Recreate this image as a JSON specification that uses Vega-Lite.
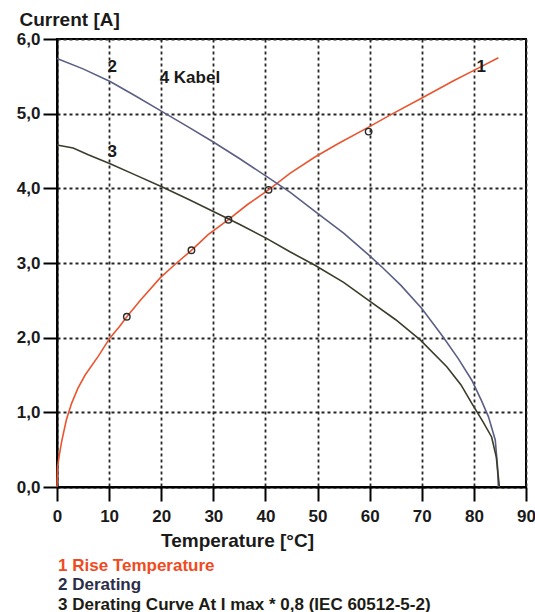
{
  "$schema": "https://vega.github.io/schema/vega-lite/v6.json",
  "autosize": "none",
  "width": 469,
  "height": 448,
  "padding": {"left": 57, "top": 39, "right": 9, "bottom": 125},
  "background": "#ffffff",
  "config": {
    "font": "Liberation Sans",
    "view": {"stroke": "#000000", "strokeWidth": 2},
    "axis": {
      "labelFont": "Liberation Sans",
      "labelFontWeight": "bold",
      "labelFontSize": 17,
      "labelColor": "#1a1a1a",
      "titleFont": "Liberation Sans",
      "titleFontWeight": "bold",
      "titleFontSize": 19,
      "titleColor": "#1a1a1a",
      "domainColor": "#000000",
      "domainWidth": 2,
      "tickColor": "#000000",
      "tickWidth": 2,
      "tickSize": 14,
      "gridColor": "#262626",
      "gridDash": [3, 3],
      "gridWidth": 1.8,
      "gridOpacity": 1
    }
  },
  "datasets": {
    "curves": [
      {"series": "1 Rise Temperature", "temp": 0, "current": 0},
      {"series": "1 Rise Temperature", "temp": 0.1, "current": 0.27},
      {"series": "1 Rise Temperature", "temp": 0.5, "current": 0.45},
      {"series": "1 Rise Temperature", "temp": 0.9, "current": 0.61},
      {"series": "1 Rise Temperature", "temp": 1.8, "current": 0.9},
      {"series": "1 Rise Temperature", "temp": 2.8, "current": 1.12},
      {"series": "1 Rise Temperature", "temp": 4, "current": 1.32},
      {"series": "1 Rise Temperature", "temp": 5.4, "current": 1.5},
      {"series": "1 Rise Temperature", "temp": 7.9, "current": 1.75},
      {"series": "1 Rise Temperature", "temp": 10.2, "current": 2.0},
      {"series": "1 Rise Temperature", "temp": 12, "current": 2.15},
      {"series": "1 Rise Temperature", "temp": 13.4, "current": 2.28},
      {"series": "1 Rise Temperature", "temp": 16, "current": 2.5},
      {"series": "1 Rise Temperature", "temp": 19.8, "current": 2.8},
      {"series": "1 Rise Temperature", "temp": 22.3, "current": 2.96},
      {"series": "1 Rise Temperature", "temp": 25.8, "current": 3.17},
      {"series": "1 Rise Temperature", "temp": 29, "current": 3.38},
      {"series": "1 Rise Temperature", "temp": 32.9, "current": 3.58},
      {"series": "1 Rise Temperature", "temp": 36.5, "current": 3.78},
      {"series": "1 Rise Temperature", "temp": 40.6, "current": 3.98},
      {"series": "1 Rise Temperature", "temp": 44.7, "current": 4.2},
      {"series": "1 Rise Temperature", "temp": 49.5, "current": 4.42},
      {"series": "1 Rise Temperature", "temp": 54, "current": 4.6},
      {"series": "1 Rise Temperature", "temp": 59.8, "current": 4.82},
      {"series": "1 Rise Temperature", "temp": 63.9, "current": 4.98},
      {"series": "1 Rise Temperature", "temp": 70.3, "current": 5.22},
      {"series": "1 Rise Temperature", "temp": 76.1, "current": 5.44},
      {"series": "1 Rise Temperature", "temp": 80, "current": 5.58},
      {"series": "1 Rise Temperature", "temp": 84.7, "current": 5.75},
      {"series": "2 Derating", "temp": 0, "current": 5.74},
      {"series": "2 Derating", "temp": 5, "current": 5.6},
      {"series": "2 Derating", "temp": 10.2, "current": 5.43},
      {"series": "2 Derating", "temp": 15, "current": 5.24},
      {"series": "2 Derating", "temp": 20.1, "current": 5.03},
      {"series": "2 Derating", "temp": 25, "current": 4.83},
      {"series": "2 Derating", "temp": 30, "current": 4.62},
      {"series": "2 Derating", "temp": 35, "current": 4.4},
      {"series": "2 Derating", "temp": 40.2, "current": 4.16},
      {"series": "2 Derating", "temp": 44.7, "current": 3.95},
      {"series": "2 Derating", "temp": 49.5, "current": 3.69},
      {"series": "2 Derating", "temp": 55, "current": 3.4},
      {"series": "2 Derating", "temp": 59.8, "current": 3.11},
      {"series": "2 Derating", "temp": 62.6, "current": 2.93},
      {"series": "2 Derating", "temp": 66, "current": 2.7},
      {"series": "2 Derating", "temp": 70, "current": 2.39},
      {"series": "2 Derating", "temp": 74.1, "current": 2.01},
      {"series": "2 Derating", "temp": 77, "current": 1.72},
      {"series": "2 Derating", "temp": 79.6, "current": 1.43},
      {"series": "2 Derating", "temp": 81.5, "current": 1.15},
      {"series": "2 Derating", "temp": 82.8, "current": 0.94},
      {"series": "2 Derating", "temp": 84.1, "current": 0.63},
      {"series": "2 Derating", "temp": 84.5, "current": 0.3},
      {"series": "2 Derating", "temp": 84.7, "current": 0},
      {"series": "3 Derating Curve At I max * 0,8 (IEC 60512-5-2)", "temp": 0, "current": 4.58},
      {"series": "3 Derating Curve At I max * 0,8 (IEC 60512-5-2)", "temp": 3.1, "current": 4.54},
      {"series": "3 Derating Curve At I max * 0,8 (IEC 60512-5-2)", "temp": 6, "current": 4.45},
      {"series": "3 Derating Curve At I max * 0,8 (IEC 60512-5-2)", "temp": 10.2, "current": 4.33},
      {"series": "3 Derating Curve At I max * 0,8 (IEC 60512-5-2)", "temp": 15, "current": 4.18},
      {"series": "3 Derating Curve At I max * 0,8 (IEC 60512-5-2)", "temp": 20.1, "current": 4.02},
      {"series": "3 Derating Curve At I max * 0,8 (IEC 60512-5-2)", "temp": 25, "current": 3.86},
      {"series": "3 Derating Curve At I max * 0,8 (IEC 60512-5-2)", "temp": 30, "current": 3.69},
      {"series": "3 Derating Curve At I max * 0,8 (IEC 60512-5-2)", "temp": 35, "current": 3.52},
      {"series": "3 Derating Curve At I max * 0,8 (IEC 60512-5-2)", "temp": 40.2, "current": 3.33},
      {"series": "3 Derating Curve At I max * 0,8 (IEC 60512-5-2)", "temp": 44.7, "current": 3.15},
      {"series": "3 Derating Curve At I max * 0,8 (IEC 60512-5-2)", "temp": 49.5, "current": 2.97},
      {"series": "3 Derating Curve At I max * 0,8 (IEC 60512-5-2)", "temp": 55, "current": 2.74},
      {"series": "3 Derating Curve At I max * 0,8 (IEC 60512-5-2)", "temp": 59.8, "current": 2.5},
      {"series": "3 Derating Curve At I max * 0,8 (IEC 60512-5-2)", "temp": 65, "current": 2.24},
      {"series": "3 Derating Curve At I max * 0,8 (IEC 60512-5-2)", "temp": 69.7, "current": 1.97},
      {"series": "3 Derating Curve At I max * 0,8 (IEC 60512-5-2)", "temp": 74.8, "current": 1.61},
      {"series": "3 Derating Curve At I max * 0,8 (IEC 60512-5-2)", "temp": 77.5, "current": 1.37},
      {"series": "3 Derating Curve At I max * 0,8 (IEC 60512-5-2)", "temp": 79.6, "current": 1.12},
      {"series": "3 Derating Curve At I max * 0,8 (IEC 60512-5-2)", "temp": 81.7, "current": 0.88},
      {"series": "3 Derating Curve At I max * 0,8 (IEC 60512-5-2)", "temp": 83.4, "current": 0.67},
      {"series": "3 Derating Curve At I max * 0,8 (IEC 60512-5-2)", "temp": 84.3, "current": 0.4},
      {"series": "3 Derating Curve At I max * 0,8 (IEC 60512-5-2)", "temp": 84.9, "current": 0}
    ],
    "measured": [
      {"temp": 13.4, "current": 2.28},
      {"temp": 25.8, "current": 3.17},
      {"temp": 32.9, "current": 3.58},
      {"temp": 40.6, "current": 3.98},
      {"temp": 59.8, "current": 4.76}
    ],
    "curveNumbers": [
      {"label": "2", "temp": 10.6, "current": 5.62},
      {"label": "3", "temp": 10.6, "current": 4.48},
      {"label": "1", "temp": 81.4, "current": 5.62}
    ],
    "notes": [
      {"label": "4  Kabel", "temp": 19.7, "current": 5.48}
    ]
  },
  "layer": [
    {
      "data": {"name": "curves"},
      "mark": {"type": "line", "strokeWidth": 1.6},
      "encoding": {
        "x": {
          "field": "temp",
          "type": "quantitative",
          "scale": {"domain": [0, 90], "nice": false, "zero": false},
          "axis": {
            "values": [0, 10, 20, 30, 40, 50, 60, 70, 80, 90],
            "title": "Temperature [°C]",
            "titleX": 180,
            "titleY": 59,
            "titleAlign": "center",
            "titleBaseline": "alphabetic",
            "labelPadding": 7,
            "labelFlush": false
          }
        },
        "y": {
          "field": "current",
          "type": "quantitative",
          "scale": {"domain": [0, 6], "nice": false},
          "axis": {
            "values": [0, 1, 2, 3, 4, 5, 6],
            "labelExpr": "replace(format(datum.value, '.1f'), '.', ',')",
            "title": "Current [A]",
            "titleAngle": 0,
            "titleAlign": "left",
            "titleBaseline": "alphabetic",
            "titleX": -38,
            "titleY": -14,
            "labelPadding": 3,
            "labelFlush": false
          }
        },
        "color": {
          "field": "series",
          "type": "nominal",
          "scale": {
            "domain": ["1 Rise Temperature", "2 Derating", "3 Derating Curve At I max * 0,8 (IEC 60512-5-2)"],
            "range": ["#ea5530", "#5a6084", "#3c3c2a"]
          },
          "legend": {
            "orient": "none",
            "legendX": -16,
            "legendY": 518,
            "title": null,
            "padding": 0,
            "symbolSize": 0,
            "symbolStrokeWidth": 0,
            "symbolOpacity": 0,
            "labelOffset": 0,
            "labelLimit": 0,
            "labelFont": "Liberation Sans",
            "labelFontWeight": "bold",
            "labelFontSize": 17,
            "rowPadding": 1.5,
            "direction": "vertical",
            "encode": {
              "labels": {
                "update": {
                  "fill": {"signal": "datum.value == '1 Rise Temperature' ? '#f04a22' : datum.value == '2 Derating' ? '#2c2e48' : '#1c1c14'"}
                }
              }
            }
          }
        }
      }
    },
    {
      "data": {"name": "measured"},
      "mark": {"type": "point", "shape": "circle", "filled": false, "size": 42, "strokeWidth": 1.4, "color": "#2a2a2a", "opacity": 1},
      "encoding": {
        "x": {"field": "temp", "type": "quantitative"},
        "y": {"field": "current", "type": "quantitative"}
      }
    },
    {
      "data": {"name": "curveNumbers"},
      "mark": {"type": "text", "font": "Liberation Sans", "fontWeight": "bold", "fontSize": 17, "color": "#1a1a1a", "baseline": "middle", "align": "center"},
      "encoding": {
        "x": {"field": "temp", "type": "quantitative"},
        "y": {"field": "current", "type": "quantitative"},
        "text": {"field": "label"}
      }
    },
    {
      "data": {"name": "notes"},
      "mark": {"type": "text", "font": "Liberation Sans", "fontWeight": "bold", "fontSize": 17, "color": "#1a1a1a", "baseline": "middle", "align": "left"},
      "encoding": {
        "x": {"field": "temp", "type": "quantitative"},
        "y": {"field": "current", "type": "quantitative"},
        "text": {"field": "label"}
      }
    }
  ]
}
